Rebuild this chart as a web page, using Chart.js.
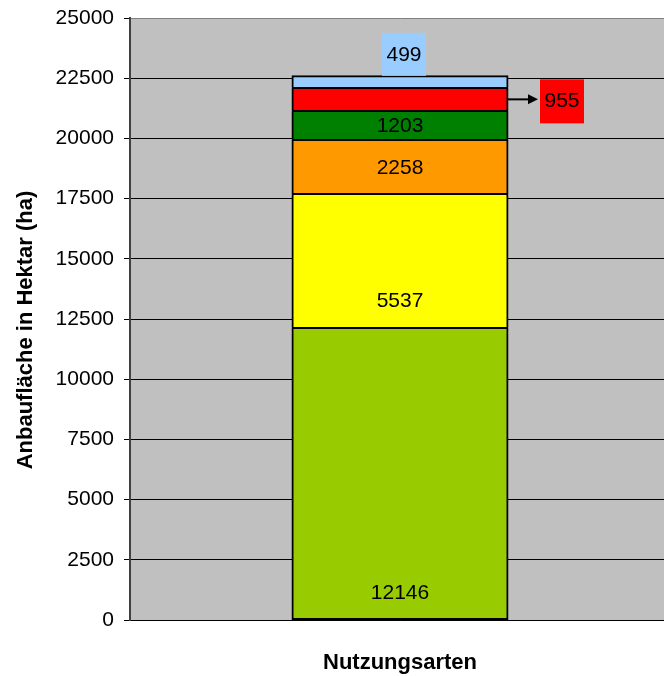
<!DOCTYPE html>
<html lang="de">
<head>
    <meta charset="UTF-8">
    <script src="https://cdn.jsdelivr.net/npm/chart.js"></script>
    <title>Anbaufläche nach Nutzungsarten</title>
    <style>
        html, body { margin: 0; padding: 0; background: #fff; overflow: hidden; }
        /* plot area runs a little past the right edge, as in the original */
        #wrap { width: 670px; height: 676px; }
    </style>
</head>
<body>
<div id="wrap"><canvas id="chart"></canvas></div>
<script>
    // data
    const categories = ["Nutzungsarten"];
    const segmentValues = [12146, 5537, 2258, 1203, 955, 499];
    const segmentColors = ["#99cc00", "#ffff00", "#ff9900", "#008000", "#ff0000", "#99ccff"];
    const yTicks = [0, 2500, 5000, 7500, 10000, 12500, 15000, 17500, 20000, 22500, 25000];
    const yTitle = "Anbaufläche in Hektar (ha)";

    // where each value label sits (Excel style)
    const labelMode = ["base", "base", "center", "center", "right", "top"];

    const FONT = "'Liberation Sans', Arial, sans-serif";

    const plotBg = {
        id: "plotBg",
        beforeDraw(chart) {
            const a = chart.chartArea, ctx = chart.ctx;
            ctx.save();
            ctx.fillStyle = "#c0c0c0";
            ctx.fillRect(a.left, a.top, a.right - a.left, a.bottom - a.top);
            ctx.restore();
        },
        afterDraw(chart) {
            // y axis title, a bit below the plot centre like Excel puts it
            const ctx = chart.ctx, a = chart.chartArea;
            ctx.save();
            ctx.translate(26, (a.top + a.bottom) / 2 + 11);
            ctx.rotate(-Math.PI / 2);
            ctx.font = "bold 22px " + FONT;
            ctx.fillStyle = "#000";
            ctx.textAlign = "center";
            ctx.textBaseline = "middle";
            ctx.fillText(yTitle, 0, 0);
            ctx.restore();
        }
    };

    const valueLabels = {
        id: "valueLabels",
        afterDatasetsDraw(chart) {
            const ctx = chart.ctx;
            ctx.save();
            // separators between the stacked segments
            ctx.strokeStyle = "#000";
            ctx.lineWidth = 2;
            chart.data.datasets.forEach((ds, i) => {
                if (i === 0) return;
                const p = chart.getDatasetMeta(i).data[0].getProps(["x", "base", "width"], true);
                const y = Math.round(p.base);
                ctx.beginPath();
                ctx.moveTo(p.x - p.width / 2, y);
                ctx.lineTo(p.x + p.width / 2, y);
                ctx.stroke();
            });

            ctx.font = "21px " + FONT;
            ctx.fillStyle = "#000";
            ctx.textAlign = "center";
            ctx.textBaseline = "middle";
            chart.data.datasets.forEach((ds, i) => {
                const el = chart.getDatasetMeta(i).data[0];
                const p = el.getProps(["x", "y", "base", "width"], true);
                const txt = String(ds.data[0]);
                const mode = labelMode[i];
                if (mode === "base") {
                    ctx.fillText(txt, p.x, p.base - 26);
                } else if (mode === "center") {
                    ctx.fillText(txt, p.x, (p.y + p.base) / 2 + 1);
                } else if (mode === "right") {
                    const cy = (p.y + p.base) / 2;
                    const x0 = p.x + p.width / 2;
                    // arrow
                    ctx.strokeStyle = "#000";
                    ctx.lineWidth = 2;
                    ctx.beginPath();
                    ctx.moveTo(x0, cy);
                    ctx.lineTo(x0 + 22, cy);
                    ctx.stroke();
                    ctx.beginPath();
                    ctx.moveTo(x0 + 30, cy);
                    ctx.lineTo(x0 + 20, cy - 5);
                    ctx.lineTo(x0 + 20, cy + 5);
                    ctx.closePath();
                    ctx.fill();
                    // box
                    const bx = x0 + 32;
                    ctx.fillStyle = segmentColors[i];
                    ctx.fillRect(bx, cy - 20, 44, 44);
                    ctx.fillStyle = "#000";
                    ctx.fillText(txt, bx + 22, cy + 2);
                } else if (mode === "top") {
                    const cx = p.x + 4;
                    ctx.fillStyle = segmentColors[i];
                    ctx.fillRect(cx - 22, p.y - 43, 44, 43);
                    ctx.fillStyle = "#000";
                    ctx.fillText(txt, cx, p.y - 21);
                }
            });
            ctx.restore();
        }
    };

    const last = segmentValues.length - 1;
    const datasets = segmentValues.map((v, i) => ({
        data: [v],
        backgroundColor: segmentColors[i],
        borderColor: "#000",
        borderWidth: { left: 2, right: 2, top: i === last ? 2 : 0, bottom: i === 0 ? 2 : 0 },
        borderSkipped: false,
        inflateAmount: 0.5,
        categoryPercentage: 1.0,
        barPercentage: 0.4
    }));

    new Chart(document.getElementById("chart"), {
        type: "bar",
        data: { labels: categories, datasets: datasets },
        options: {
            responsive: true,
            maintainAspectRatio: false,
            animation: false,
            devicePixelRatio: 1,
            layout: { padding: { top: 18, right: 0, bottom: 0, left: 0 } },
            plugins: { legend: { display: false }, tooltip: { enabled: false } },
            scales: {
                x: {
                    stacked: true,
                    ticks: { display: false },
                    grid: { display: true, drawOnChartArea: false, drawTicks: false, color: "rgba(0,0,0,0)" },
                    border: { display: true, color: "#000", width: 1 },
                    title: {
                        display: true,
                        text: "Nutzungsarten",
                        color: "#000",
                        font: { family: FONT, size: 22, weight: "bold" },
                        padding: { top: 0, bottom: 0 }
                    },
                    afterFit(scale) {
                        scale.height = 56;
                        scale.paddingLeft = 0;
                        scale.paddingRight = 0;
                    }
                },
                y: {
                    stacked: true,
                    min: 0,
                    max: 25000,
                    afterBuildTicks(scale) { scale.ticks = yTicks.map(v => ({ value: v })); },
                    ticks: {
                        color: "#000",
                        padding: 10,
                        font: { family: FONT, size: 21 },
                        callback: v => String(v)
                    },
                    grid: {
                        color: ctx => ctx.tick && ctx.tick.value === 25000 ? "#808080" : "#000",
                        lineWidth: 1,
                        tickLength: 6,
                        tickColor: "#000"
                    },
                    border: { display: true, color: "#404040", width: 2 },
                    title: { display: false },
                    afterFit(scale) {
                        scale.width = 130;
                        scale.paddingTop = 0;
                        scale.paddingBottom = 0;
                    }
                }
            }
        },
        plugins: [plotBg, valueLabels]
    });
</script>
</body>
</html>
